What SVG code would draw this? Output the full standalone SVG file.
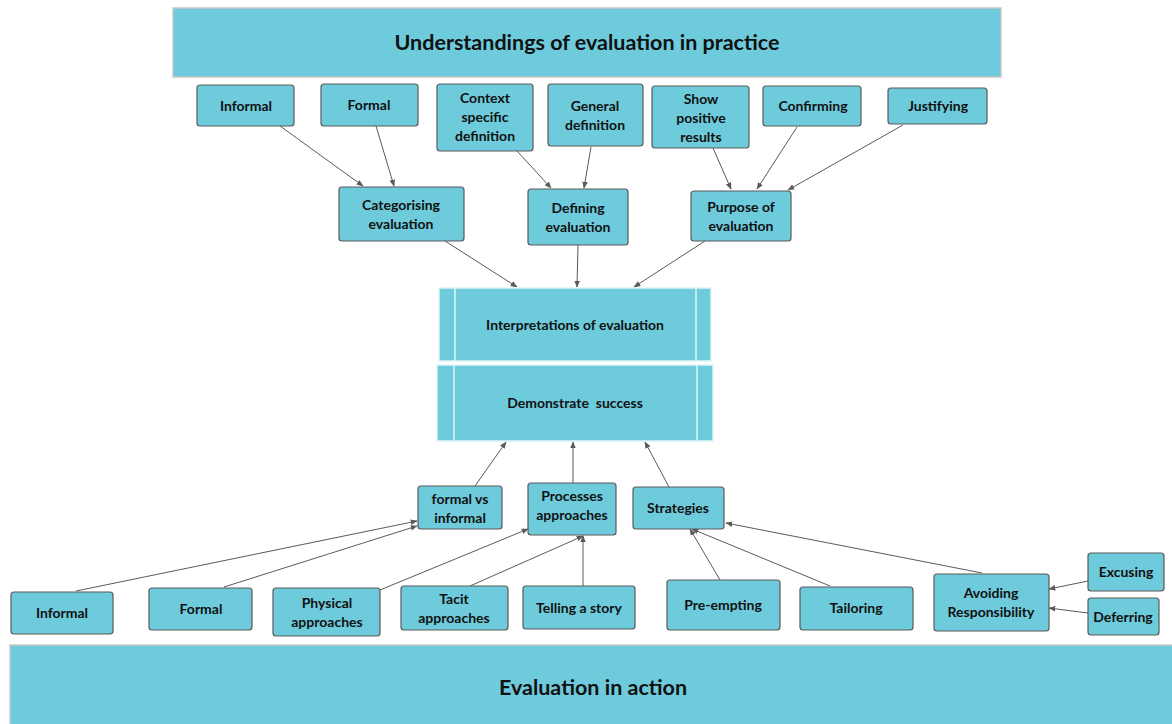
<svg xmlns="http://www.w3.org/2000/svg" width="1172" height="724" viewBox="0 0 1172 724">
<style>
.n{fill:#6ECBDC;stroke:#5a5a5a;stroke-width:1.2}
.band{fill:#6ECBDC;stroke:#c8c8c8;stroke-width:1.5}
.proc{fill:#6ECBDC;stroke:#dff4f8;stroke-width:1.5}
.t{font-family:Lato,"Liberation Sans",sans-serif;font-weight:bold;font-size:14px;fill:#111;text-anchor:middle;dominant-baseline:central;transform:translateY(-1px)}
.big{font-size:21.5px}
.c line{stroke:#5a5a5a;stroke-width:1;marker-end:url(#a)}
</style>
<defs>
<marker id="a" viewBox="0 0 10 10" refX="9" refY="5" markerWidth="7" markerHeight="7" markerUnits="userSpaceOnUse" orient="auto">
<path d="M0,1 L10,5 L0,9 z" fill="#5a5a5a"/>
</marker>
</defs>
<rect width="1172" height="724" fill="#fff"/>

<g id="header"><rect class="band" x="173" y="8" width="828" height="69"/><text class="t big" x="587" y="43">Understandings of evaluation in practice</text></g>
<g id="footer"><rect class="band" x="10" y="645" width="1170" height="85"/><text class="t big" x="593" y="688">Evaluation in action</text></g>

<g class="c" id="connectors">
<line x1="280" y1="126" x2="363" y2="186"/>
<line x1="376" y1="126" x2="394" y2="186"/>
<line x1="517" y1="151" x2="551" y2="188"/>
<line x1="591" y1="147" x2="584" y2="188"/>
<line x1="713" y1="148" x2="731" y2="189"/>
<line x1="797" y1="127" x2="757" y2="189"/>
<line x1="903" y1="125" x2="788" y2="190"/>
<line x1="445" y1="241" x2="517" y2="287"/>
<line x1="578" y1="245" x2="577" y2="287"/>
<line x1="705" y1="241" x2="634" y2="287"/>
<line x1="475" y1="486" x2="506" y2="442"/>
<line x1="573" y1="483" x2="573" y2="442"/>
<line x1="669" y1="487" x2="645" y2="442"/>
<line x1="76" y1="591" x2="417" y2="521"/>
<line x1="224" y1="587" x2="417" y2="526"/>
<line x1="380" y1="590" x2="528" y2="529"/>
<line x1="470" y1="586" x2="583" y2="536"/>
<line x1="583" y1="586" x2="583" y2="536"/>
<line x1="720" y1="580" x2="690" y2="529"/>
<line x1="830" y1="586" x2="692" y2="529"/>
<line x1="982" y1="573" x2="726" y2="523"/>
<line x1="1088" y1="581" x2="1049" y2="589"/>
<line x1="1088" y1="613" x2="1049" y2="608"/>
</g>

<g id="informal-top"><rect class="n" x="197" y="85" width="97" height="41" rx="3"/><text class="t" x="246" y="106">Informal</text></g>
<g id="formal-top"><rect class="n" x="321" y="84" width="97" height="42" rx="3"/><text class="t" x="369" y="105">Formal</text></g>
<g id="context"><rect class="n" x="437" y="84" width="96" height="67" rx="3"/><text class="t" x="485" y="98">Context</text><text class="t" x="485" y="117">specific</text><text class="t" x="485" y="136">definition</text></g>
<g id="general"><rect class="n" x="548" y="84" width="95" height="62" rx="3"/><text class="t" x="595" y="106">General</text><text class="t" x="595" y="125">definition</text></g>
<g id="show"><rect class="n" x="652" y="86" width="97" height="62" rx="3"/><text class="t" x="701" y="99">Show</text><text class="t" x="701" y="118">positive</text><text class="t" x="701" y="137">results</text></g>
<g id="confirming"><rect class="n" x="763" y="86" width="98" height="40" rx="3"/><text class="t" x="813" y="106">Confirming</text></g>
<g id="justifying"><rect class="n" x="888" y="88" width="99" height="36" rx="3"/><text class="t" x="938" y="106">Justifying</text></g>
<g id="categorising"><rect class="n" x="339" y="187" width="125" height="54" rx="3"/><text class="t" x="401" y="205">Categorising</text><text class="t" x="401" y="224">evaluation</text></g>
<g id="defining"><rect class="n" x="528" y="189" width="100" height="56" rx="3"/><text class="t" x="578" y="208">Defining</text><text class="t" x="578" y="227">evaluation</text></g>
<g id="purpose"><rect class="n" x="691" y="191" width="100" height="50" rx="3"/><text class="t" x="741" y="207">Purpose of</text><text class="t" x="741" y="226">evaluation</text></g>

<g id="interpretations"><rect class="proc" x="439" y="288" width="272" height="73"/><line x1="455" y1="288" x2="455" y2="361" stroke="#dff4f8" stroke-width="1.5"/><line x1="696" y1="288" x2="696" y2="361" stroke="#dff4f8" stroke-width="1.5"/><text class="t" x="575" y="325">Interpretations of evaluation</text></g>
<g id="demonstrate"><rect class="proc" x="437" y="365" width="276" height="76"/><line x1="454" y1="365" x2="454" y2="441" stroke="#dff4f8" stroke-width="1.5"/><line x1="697" y1="365" x2="697" y2="441" stroke="#dff4f8" stroke-width="1.5"/><text class="t" x="575" y="403" xml:space="preserve">Demonstrate  success</text></g>

<g id="formalvs"><rect class="n" x="418" y="486" width="84" height="43" rx="3"/><text class="t" x="460" y="499">formal vs</text><text class="t" x="460" y="518">informal</text></g>
<g id="processes"><rect class="n" x="528" y="483" width="88" height="52" rx="3"/><text class="t" x="572" y="496">Processes</text><text class="t" x="572" y="515">approaches</text></g>
<g id="strategies"><rect class="n" x="633" y="487" width="91" height="42" rx="3"/><text class="t" x="678" y="508">Strategies</text></g>

<g id="informal-bottom"><rect class="n" x="11" y="592" width="102" height="42" rx="3"/><text class="t" x="62" y="613">Informal</text></g>
<g id="formal-bottom"><rect class="n" x="149" y="588" width="103" height="42" rx="3"/><text class="t" x="201" y="609">Formal</text></g>
<g id="physical"><rect class="n" x="273" y="588" width="107" height="48" rx="3"/><text class="t" x="327" y="603">Physical</text><text class="t" x="327" y="622">approaches</text></g>
<g id="tacit"><rect class="n" x="401" y="586" width="107" height="44" rx="3"/><text class="t" x="454" y="599">Tacit</text><text class="t" x="454" y="618">approaches</text></g>
<g id="telling"><rect class="n" x="523" y="586" width="112" height="43" rx="3"/><text class="t" x="579" y="608">Telling a story</text></g>
<g id="preempting"><rect class="n" x="667" y="580" width="113" height="50" rx="3"/><text class="t" x="723" y="605">Pre-empting</text></g>
<g id="tailoring"><rect class="n" x="800" y="587" width="113" height="43" rx="3"/><text class="t" x="856" y="608">Tailoring</text></g>
<g id="avoiding"><rect class="n" x="934" y="574" width="115" height="57" rx="3"/><text class="t" x="991" y="593">Avoiding</text><text class="t" x="991" y="612">Responsibility</text></g>
<g id="excusing"><rect class="n" x="1088" y="553" width="76" height="38" rx="3"/><text class="t" x="1126" y="572">Excusing</text></g>
<g id="deferring"><rect class="n" x="1088" y="598" width="71" height="37" rx="3"/><text class="t" x="1123" y="617">Deferring</text></g>
</svg>
